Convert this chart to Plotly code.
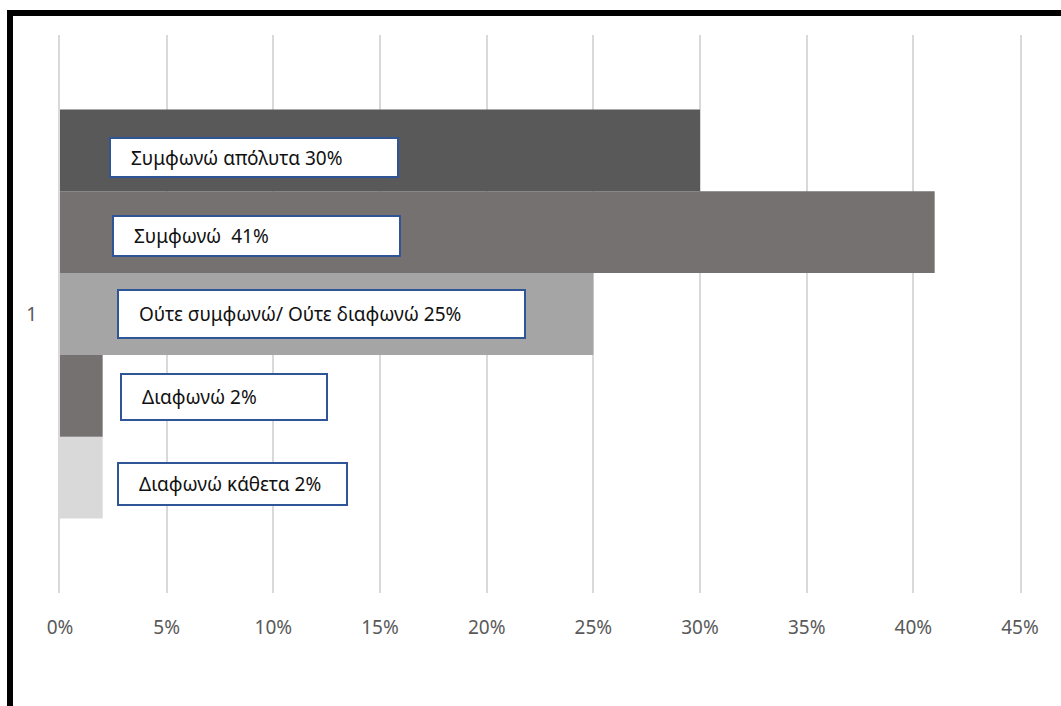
import plotly.graph_objects as go

# Survey responses (share of respondents, %)
categories = ["1"]
responses = ["Συμφωνώ απόλυτα", "Συμφωνώ ", "Ούτε συμφωνώ/ Ούτε διαφωνώ", "Διαφωνώ", "Διαφωνώ κάθετα"]
shares = [30, 41, 25, 2, 2]
bar_colors = ["#595959", "#767171", "#A5A5A5", "#767171", "#D9D9D9"]
x_ticks = [0, 5, 10, 15, 20, 25, 30, 35, 40, 45]

W, H = 1061, 706
L, R, T, B = 60, 41, 35, 113
plot_w = W - L - R
plot_h = H - T - B
X_MAX = 45


def px_to_x(px):
    return (px - L) / plot_w * X_MAX


def px_to_py(py):
    return (H - B - py) / plot_h


def px_to_paper_x(px):
    return (px - L) / plot_w


# label box layout in pixels: (left, top, right, bottom)
boxes = [
    (110, 138, 398, 177),
    (113, 216, 400, 256),
    (118, 290, 525, 338),
    (121, 374, 327, 420),
    (118, 463, 347, 505),
]

fig = go.Figure()

# grouped horizontal bars; later traces sit higher, so add bottom-up
for name, val, col in reversed(list(zip(responses, shares, bar_colors))):
    fig.add_trace(go.Bar(
        y=categories, x=[val], orientation="h", name=name,
        marker=dict(color=col, line=dict(width=0)),
        hoverinfo="skip",
    ))

shapes = []
annotations = []
for (name, val), (x0, y0, x1, y1) in zip(zip(responses, shares), boxes):
    shapes.append(dict(
        type="rect", xref="x", yref="paper",
        x0=px_to_x(x0), x1=px_to_x(x1), y0=px_to_py(y1), y1=px_to_py(y0),
        fillcolor="white", line=dict(color="#2F5597", width=2), layer="above",
    ))
    annotations.append(dict(
        x=px_to_x(x0 + 19), y=px_to_py((y0 + y1) / 2), xref="x", yref="paper",
        xanchor="left", yanchor="middle", showarrow=False,
        text=f"{name} {val}%",
        font=dict(family="Noto Sans", size=19, color="#111111"),
    ))

# outer frame: top and left edges
shapes.append(dict(type="line", xref="paper", yref="paper",
                   x0=px_to_paper_x(7), x1=px_to_paper_x(1070),
                   y0=px_to_py(13), y1=px_to_py(13),
                   line=dict(color="black", width=6), layer="above"))
shapes.append(dict(type="line", xref="paper", yref="paper",
                   x0=px_to_paper_x(10), x1=px_to_paper_x(10),
                   y0=px_to_py(10), y1=px_to_py(715),
                   line=dict(color="black", width=6), layer="above"))

fig.update_layout(
    width=W, height=H,
    margin=dict(l=L, r=R, t=T, b=B, autoexpand=False),
    paper_bgcolor="white", plot_bgcolor="white",
    barmode="group", bargap=0.267, bargroupgap=0,
    showlegend=False,
    font=dict(family="Noto Sans", color="#595959"),
    shapes=shapes, annotations=annotations,
)
fig.update_xaxes(
    range=[0, X_MAX], tickvals=x_ticks, ticktext=[f"{t}%" for t in x_ticks],
    showgrid=True, gridcolor="#D9D9D9", gridwidth=2,
    zeroline=False, showline=False, ticks="",
    tickfont=dict(size=19, color="#595959"), ticklabelstandoff=21,
)
# vertical axis lines at 0% and 45% act as the edge gridlines
fig.update_yaxes(
    range=[-0.5, 0.5], showgrid=False, zeroline=False,
    showline=True, mirror=True, linecolor="#D9D9D9", linewidth=2,
    layer="below traces",
    ticks="", tickfont=dict(size=19, color="#595959"), ticklabelstandoff=17,
)

fig.write_html("out.html")
